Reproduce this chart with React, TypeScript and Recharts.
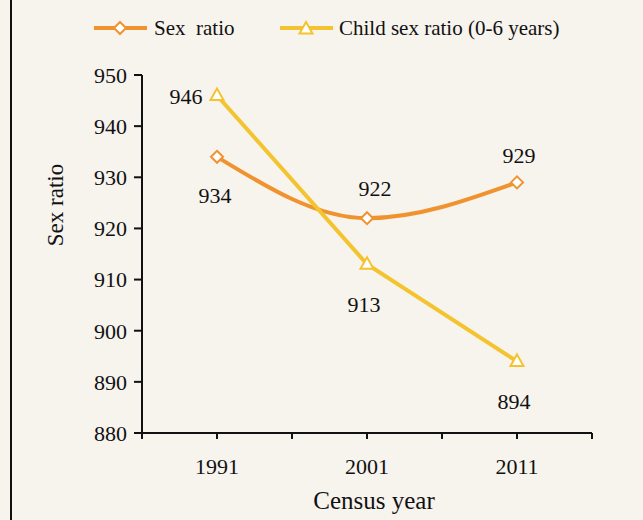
import React from 'react';
import { LineChart, Line, XAxis, YAxis, Legend, LabelList } from 'recharts';

const years = [1991, 2001, 2011];
const sexRatio = [934, 922, 929];
const childSexRatio = [946, 913, 894];
const xTicks = [1986, 1991, 1996, 2001, 2006, 2011, 2016];
const yTicks = [880, 890, 900, 910, 920, 930, 940, 950];

const data = years.map((y, i) => ({ year: y, sex: sexRatio[i], child: childSexRatio[i] }));

const ORANGE = '#F0932F';
const YELLOW = '#F4C430';
const BG = '#F7F3ED';
const FONT = "'Liberation Serif', 'Times New Roman', serif";

const diamond = (cx: number, cy: number, key?: any) => (
  <polygon
    key={key}
    points={`${cx},${cy - 6} ${cx + 6},${cy} ${cx},${cy + 6} ${cx - 6},${cy}`}
    fill="#fff"
    stroke={ORANGE}
    strokeWidth={2}
  />
);
const triangle = (cx: number, cy: number, key?: any) => (
  <polygon
    key={key}
    points={`${cx},${cy - 7} ${cx + 6.5},${cy + 4.5} ${cx - 6.5},${cy + 4.5}`}
    fill="#fff"
    stroke={YELLOW}
    strokeWidth={2}
  />
);

const sexOffsets = [
  [-2, 39],
  [8, -30],
  [2, -27],
];
const childOffsets = [
  [-31, 1],
  [-3, 40],
  [-3, 40],
];

const textStyle = { fontFamily: FONT, fontSize: 21, fill: '#111' };
const numStyle = { fontFamily: FONT, fontSize: 22, fill: '#111' };

const makeLabel = (offsets: number[][]) => (props: any) => {
  const { x, y, value, index } = props;
  const o = offsets[index] || [0, 0];
  return (
    <text x={x + o[0]} y={y + o[1] + 7.5} textAnchor="middle" style={numStyle}>
      {value}
    </text>
  );
};

const LegendContent = () => (
  <div style={{ position: 'relative', height: 75, width: 592 }}>
    <svg width={592} height={75} style={{ position: 'absolute', left: 0, top: 0 }}>
      <line x1={94} x2={147} y1={28} y2={28} stroke={ORANGE} strokeWidth={4} />
      {diamond(120, 28)}
      <text x={154} y={35} style={{ ...textStyle, whiteSpace: 'pre' }}>
        {'Sex  ratio'}
      </text>
      <line x1={280} x2={333} y1={28} y2={28} stroke={YELLOW} strokeWidth={4} />
      {triangle(306, 29)}
      <text x={339} y={35} style={textStyle}>
        Child sex ratio (0-6 years)
      </text>
    </svg>
  </div>
);

export default function App() {
  return (
    <div
      style={{
        position: 'absolute',
        left: 0,
        top: 0,
        width: 643,
        height: 520,
        background: BG,
        overflow: 'hidden',
        fontFamily: FONT,
      }}
    >
      <div style={{ position: 'absolute', left: 10, top: 0, width: 2, height: 520, background: '#111' }} />
      <LineChart
        width={643}
        height={520}
        data={data}
        margin={{ top: 0, right: 51, bottom: 0, left: 0 }}
        style={{ fontFamily: FONT }}
      >
        <Legend verticalAlign="top" align="left" content={<LegendContent />} wrapperStyle={{ height: 75 }} />
        <XAxis
          dataKey="year"
          type="number"
          domain={[1986, 2016]}
          ticks={xTicks}
          tickFormatter={(v: number) => (years.includes(v) ? String(v) : '')}
          height={87}
          tickSize={6}
          tickMargin={19}
          stroke="#111"
          strokeWidth={2}
          tick={{ fill: '#111', fontFamily: FONT, fontSize: 22, style: { fontFamily: FONT } }}
          tickLine={{ stroke: '#111', strokeWidth: 2 }}
          axisLine={{ stroke: '#111', strokeWidth: 2 }}
          label={(props: any) => {
            const vb = props.viewBox || {};
            return (
              <text
                x={vb.x + vb.width / 2 + 7}
                y={vb.y + 76}
                textAnchor="middle"
                style={{ fontFamily: FONT, fontSize: 25, fill: '#111' }}
              >
                Census year
              </text>
            );
          }}
        />
        <YAxis
          type="number"
          domain={[880, 950]}
          ticks={yTicks}
          width={142}
          tickSize={8}
          tickMargin={7}
          interval={0}
          tick={{ fill: '#111', fontFamily: FONT, fontSize: 22, style: { fontFamily: FONT } }}
          tickLine={{ stroke: '#111', strokeWidth: 2 }}
          axisLine={{ stroke: '#111', strokeWidth: 2 }}
          label={(props: any) => {
            const vb = props.viewBox || {};
            const cx = 55;
            const cy = vb.y + 130;
            return (
              <text
                x={cx}
                y={cy}
                transform={`rotate(-90 ${cx} ${cy})`}
                textAnchor="middle"
                dominantBaseline="central"
                style={{ fontFamily: FONT, fontSize: 23, fill: '#111' }}
              >
                Sex ratio
              </text>
            );
          }}
        />
        <Line
          dataKey="sex"
          type="monotone"
          stroke={ORANGE}
          strokeWidth={4}
          isAnimationActive={false}
          dot={(p: any) => diamond(p.cx, p.cy, `d${p.index}`)}
          activeDot={false}
        >
          <LabelList dataKey="sex" content={makeLabel(sexOffsets)} />
        </Line>
        <Line
          dataKey="child"
          type="linear"
          stroke={YELLOW}
          strokeWidth={4}
          isAnimationActive={false}
          dot={(p: any) => triangle(p.cx, p.cy, `t${p.index}`)}
          activeDot={false}
        >
          <LabelList dataKey="child" content={makeLabel(childOffsets)} />
        </Line>
      </LineChart>
    </div>
  );
}
